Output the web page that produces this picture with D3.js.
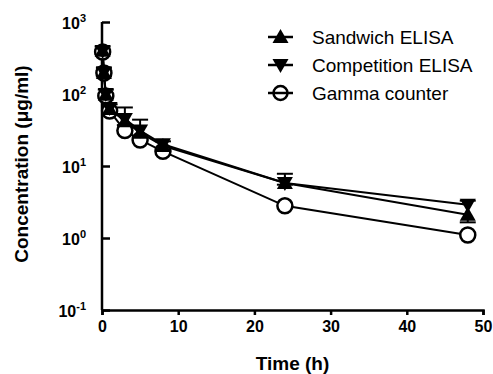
<!DOCTYPE html>
<html>
<head>
<meta charset="utf-8">
<script src="https://cdn.jsdelivr.net/npm/d3@7"></script>
<style>
  body { margin: 0; background: #fff; }
  text { font-family: "Liberation Sans", Arial, sans-serif; fill: #000; }
</style>
</head>
<body>
<svg width="493" height="374"></svg>
<script>
"use strict";

// sampling times (h)
var times = [0.083, 0.25, 0.5, 1, 3, 5, 8, 24, 48];

// concentrations (ug/ml)
var sandwich    = [400, 195, 98, 62, 42, 29, 19, 5.8, 2.1];
var sandwichErr = [40, 20, 10, 6, 5, 3, 2, 0.3, 0.45];   // drawn below
var competition    = [395, 200, 100, 64, 45, 31, 20, 5.8, 2.9];
var competitionErr = [60, 30, 15, 8, 20, 13, 2, 2.0, 0.4]; // drawn above
var gamma = [383, 196, 94, 58, 31, 23, 16, 2.8, 1.1];

var xTicks = [0, 10, 20, 30, 40, 50];
var yTicks = [-1, 0, 1, 2, 3]; // powers of ten

var seriesNames = ["Sandwich ELISA", "Competition ELISA", "Gamma counter"];

var svg = d3.select("svg");
var margin = {top: 22, right: 10, bottom: 64, left: 102};
var width = 493 - margin.left - margin.right;
var height = 374 - margin.top - margin.bottom;

var g = svg.append("g")
    .attr("transform", "translate(" + margin.left + "," + margin.top + ")");

var x = d3.scaleLinear().domain([0, 50]).range([0, width]);
var y = d3.scaleLog().domain([0.1, 1000]).range([height, 0]);

// x axis
var xAxis = g.append("g")
    .attr("transform", "translate(0," + height + ")")
    .call(d3.axisBottom(x).tickValues(xTicks).tickSize(5).tickPadding(6));
xAxis.select(".domain").attr("stroke-width", 2.5);
xAxis.selectAll(".tick line").attr("stroke-width", 2.5);
xAxis.selectAll(".tick text")
    .style("font-size", "16px").style("font-weight", "bold")
    .attr("font-family", null);

// y axis, ticks drawn inward as in the original
var yAxis = g.append("g")
    .call(d3.axisRight(y).tickValues(yTicks.map(function(p) { return Math.pow(10, p); }))
      .tickSize(8).tickFormat(""));
yAxis.select(".domain").attr("stroke-width", 2.5).attr("d", "M0," + height + "V0");
yAxis.selectAll(".tick line").attr("stroke-width", 2.5);

var yLab = g.append("g").selectAll("text")
    .data(yTicks)
    .enter().append("text")
    .attr("x", -16)
    .attr("y", function(p) { return y(Math.pow(10, p)) + 7; })
    .attr("text-anchor", "end")
    .style("font-size", "16px").style("font-weight", "bold");
yLab.append("tspan").text("10");
yLab.append("tspan")
    .attr("dy", -7)
    .style("font-size", "11px")
    .text(function(p) { return p; });

// axis titles
svg.append("text")
    .attr("x", margin.left + width / 2)
    .attr("y", 370)
    .attr("text-anchor", "middle")
    .style("font-size", "19px").style("font-weight", "bold")
    .text("Time (h)");

svg.append("text")
    .attr("transform", "translate(28," + (margin.top + height / 2 - 2) + ") rotate(-90)")
    .attr("text-anchor", "middle")
    .style("font-size", "19px").style("font-weight", "bold")
    .text("Concentration (\u03bcg/ml)");

var line = d3.line()
    .x(function(d) { return x(d.t); })
    .y(function(d) { return y(d.v); });

function pts(vals, errs) {
  return times.map(function(t, i) { return {t: t, v: vals[i], e: errs ? errs[i] : 0}; });
}

var sData = pts(sandwich, sandwichErr);
var cData = pts(competition, competitionErr);
var gData = pts(gamma);

var triUp = "M0,-8L8,6L-8,6Z";
var triDown = "M-8,-6L8,-6L0,8Z";

// error bars
function errBars(data, dir) {
  var eb = g.append("g").attr("stroke", "#000").attr("stroke-width", 2);
  data.forEach(function(d) {
    var end = dir > 0 ? d.v + d.e : Math.max(d.v - d.e, 0.11);
    var cx = x(d.t);
    eb.append("line").attr("x1", cx).attr("x2", cx)
      .attr("y1", y(d.v)).attr("y2", y(end));
    eb.append("line").attr("x1", cx - 8).attr("x2", cx + 8)
      .attr("y1", y(end)).attr("y2", y(end));
  });
}
errBars(cData, 1);
errBars(sData, -1);

// lines
[gData, sData, cData].forEach(function(data) {
  g.append("path").datum(data)
    .attr("d", line)
    .attr("fill", "none")
    .attr("stroke", "#000")
    .attr("stroke-width", 2);
});

// markers
g.selectAll(".gam").data(gData).enter().append("circle")
    .attr("cx", function(d) { return x(d.t); })
    .attr("cy", function(d) { return y(d.v); })
    .attr("r", 7.5)
    .attr("fill", "#fff").attr("stroke", "#000").attr("stroke-width", 2.5);

g.selectAll(".san").data(sData).enter().append("path")
    .attr("d", triUp)
    .attr("transform", function(d) { return "translate(" + x(d.t) + "," + y(d.v) + ")"; })
    .attr("fill", "#000");

g.selectAll(".com").data(cData).enter().append("path")
    .attr("d", triDown)
    .attr("transform", function(d) { return "translate(" + x(d.t) + "," + y(d.v) + ")"; })
    .attr("fill", "#000");

// legend
var legend = svg.append("g").attr("transform", "translate(268,37)");
var rows = legend.selectAll("g").data(seriesNames).enter().append("g")
    .attr("transform", function(d, i) { return "translate(0," + (i * 28) + ")"; });
rows.append("line").attr("x1", 0).attr("x2", 25).attr("y1", 0).attr("y2", 0)
    .attr("stroke", "#000").attr("stroke-width", 2.5);
rows.each(function(d, i) {
  var r = d3.select(this);
  if (i === 0) r.append("path").attr("d", triUp).attr("transform", "translate(12.5,0)");
  else if (i === 1) r.append("path").attr("d", triDown).attr("transform", "translate(12.5,0)");
  else r.append("circle").attr("cx", 12.5).attr("cy", 0).attr("r", 7)
      .attr("fill", "none").attr("stroke", "#000").attr("stroke-width", 2.5);
});
rows.append("text")
    .attr("x", 44).attr("y", 7)
    .style("font-size", "19px")
    .text(function(d) { return d; });
</script>
</body>
</html>
